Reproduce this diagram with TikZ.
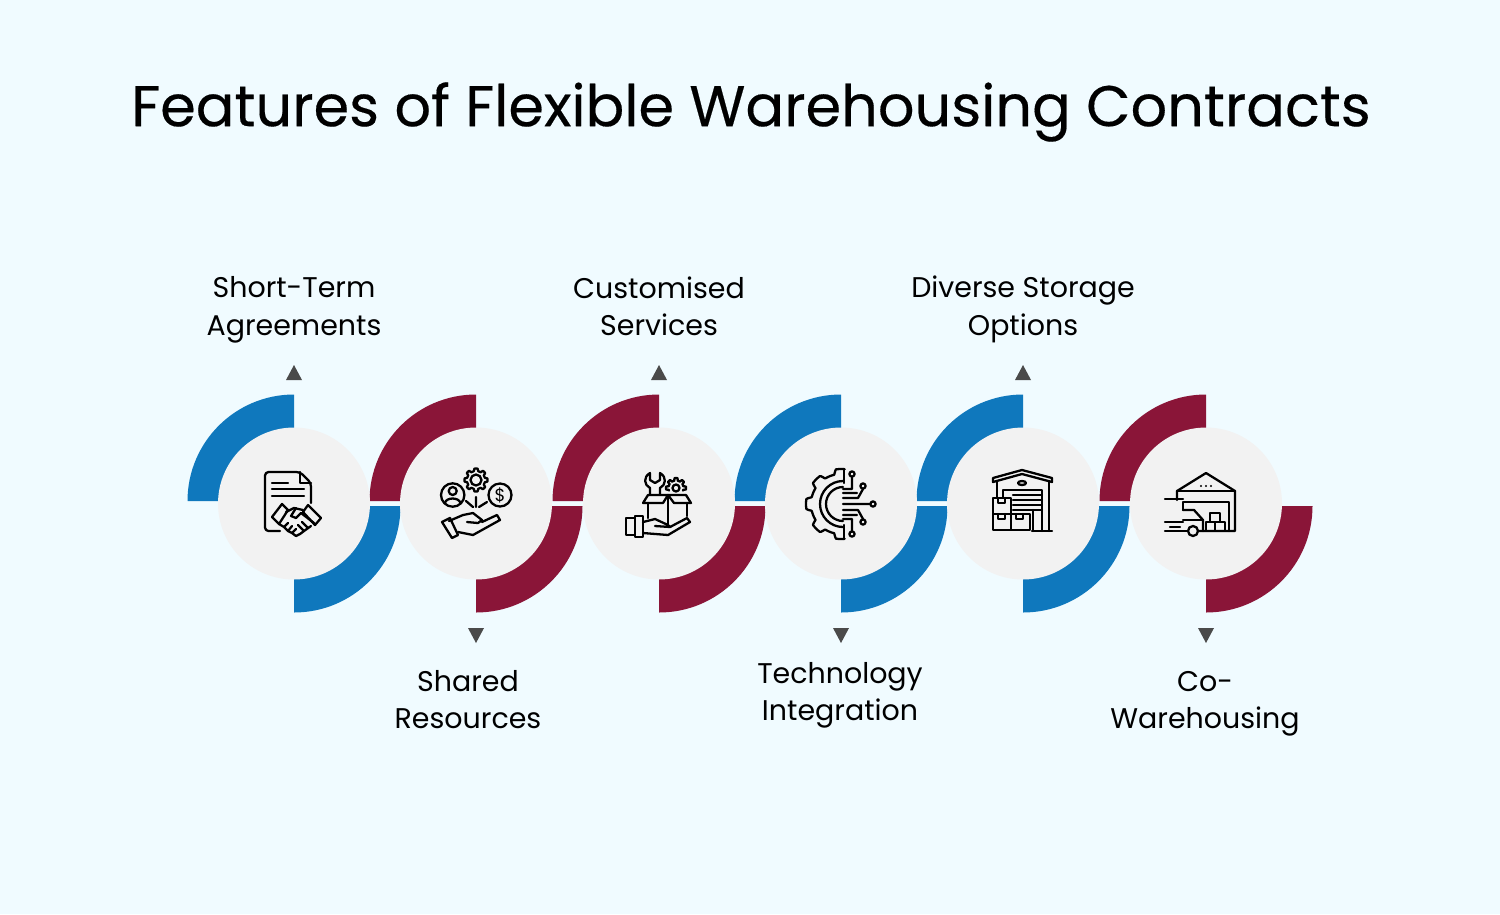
\documentclass[tikz,border=0pt]{standalone}
\usepackage{fontspec}
\setmainfont{Poppins}
\newfontfamily\headfont[FakeBold=0.3]{Poppins}
\definecolor{fondo}{HTML}{F0FBFF}
\definecolor{azul}{HTML}{0F78BD}
\definecolor{vino}{HTML}{8A1538}
\definecolor{disco}{HTML}{F2F2F2}
\definecolor{punta}{HTML}{4A4A4A}
\newcommand{\engrane}[6]{plot[domain=#5:#6,samples=121] ({#1+(#3+(#4-#3)*min(1,max(0,1.6*cos(8*\x)+.4)))*cos(\x)},{#2+(#3+(#4-#3)*min(1,max(0,1.6*cos(8*\x)+.4)))*sin(\x)})}
\begin{document}
\begin{tikzpicture}[x=0.02cm,y=-0.02cm,
        hub/.style={circle,fill=disco,minimum size=3.04cm,inner sep=0pt},
        tag/.style={align=center,text=black,font=\fontsize{16.2}{21.3}\selectfont},
        heading/.style={text=black,font=\headfont\fontsize{32.66}{40}\selectfont},
        icon/.style={draw=black,line width=1.3pt,line join=round,line cap=round}]
      \useasboundingbox (0,0) rectangle (1500,914);
      \fill [fondo] (0,0) rectangle (1500,914);
      \node [heading] (title) at (751,112) {Features of Flexible Warehousing Contracts};
      \foreach \cx/\col in {294/azul,476/vino,659/vino,841/azul,1023/azul,1206/vino}{
        \fill [\col] (\cx-106.5,501) arc[start angle=180,end angle=270,radius=106.5]
          -- (\cx,441) arc[start angle=270,end angle=180,radius=60] -- cycle;
        \fill [\col] (\cx+106.5,506) arc[start angle=0,end angle=90,radius=106.5]
          -- (\cx,566) arc[start angle=90,end angle=0,radius=60] -- cycle;
      }
      \foreach \n/\cx in {0/294,1/476,2/659,3/841,4/1023,5/1206}
        \node [hub] (hub\n) at (\cx,503.5) {};
      \foreach \cx in {294,659,1023}
        \fill [punta] (\cx,365) -- (\cx+8,380) -- (\cx-8,380) -- cycle;
      \foreach \cx in {476,841,1206}
        \fill [punta] (\cx,643) -- (\cx+8,628) -- (\cx-8,628) -- cycle;
      \node [tag] (tag0) at (294,310) {Short-Term\\Agreements};
      \node [tag] (tag1) at (468,699.5) {Shared\\Resources};
      \node [tag] (tag2) at (659,306) {Customised\\Services};
      \node [tag] (tag3) at (840,695.5) {Technology\\Integration};
      \node [tag] (tag4) at (1023,309.5) {Diverse Storage\\Options};
      \node [tag] (tag5) at (1205,704) {Co-\\Warehousing};
      % contract
      \draw [icon,rounded corners=2pt] (311,503) -- (311,483) -- (300,472) -- (265,472) -- (265,531) -- (280,531);
      \draw [icon] (300,472) -- (300,483) -- (311,483);
      \draw [icon] (272,483) -- (288,483) (272,489) -- (304,489) (272,496) -- (304,496);
      \draw [icon] (272,517) -- (282,504) -- (288,510) -- (279,524) -- cycle;
      \draw [icon] (308,505) -- (321,518) -- (315,525) -- (303,512) -- cycle;
      \draw [icon] (286,512) -- (294,508) -- (303,510);
      \draw [icon] (296,508) -- (291,516) -- (296,518) -- (301,513) -- (314,523);
      \draw [icon] (279,524) -- (284,527) -- (288,531) -- (292,533) -- (296,536) -- (300,534) -- (304,531) -- (311,526);
      \draw [icon] (284,527) -- (288,523) (288,531) -- (292,526) (292,533) -- (296,529) (304,531) -- (298,525) (308,528) -- (302,522);
      % people, gear, money
      \draw [icon] \engrane{476}{480}{9}{11.5}{0}{360};
      \draw [icon] (476,480) circle[radius=5.5];
      \draw [icon] (452.7,495) circle[radius=11.7] (452.7,491) circle[radius=4];
      \draw [icon] (445,503) .. controls (446,497) and (459,497) .. (460.5,503);
      \draw [icon] (500,495) circle[radius=11.5];
      \node [font=\fontsize{10}{10}\selectfont,inner sep=0pt] (dollar) at (500,495) {\$};
      \draw [icon] (476,497) -- (476,507) (466,501) -- (473,507) (487,502) -- (479,507);
      \draw [icon] (442,522) -- (450,518) -- (458,535) -- (452,538) -- cycle;
      \draw [icon] (449,521) -- (463,515) -- (473,513) -- (482,520) -- (478,523) -- (467,522);
      \draw [icon] (458,532) -- (473,535) -- (500,520) -- (497,515) -- (482,522);
      % box in hand
      \draw [icon] (668,495) -- (648,495) -- (643,503) -- (663,503) -- cycle;
      \draw [icon] (668,495) -- (686,495) -- (691,503) -- (674,503) -- cycle;
      \draw [icon] (648,503) -- (648,518) (687,503) -- (687,516) (668,495) -- (668,524);
      \draw [icon] (650,494) -- (650,488) .. controls (644,485) and (643,477) .. (650,473) -- (650,480) -- (655,483) -- (660,480) -- (660,473) .. controls (667,477) and (666,485) .. (660,488) -- (660,494);
      \draw [icon] \engrane{676}{488}{7.5}{10}{-200}{20};
      \draw [icon] (676,488) circle[radius=3.5];
      \draw [icon] (626,518) rectangle (635,535) (635,516) rectangle (643,537);
      \draw [icon] (643,522) -- (655,519) -- (668,525) -- (670,527) -- (655,526);
      \draw [icon] (643,533) -- (668,535) -- (690,522) -- (687,518) -- (670,527);
      % half gear with circuit
      \draw [icon] \engrane{841}{504}{30}{35}{-84}{-276};
      \draw [icon] (844,469) -- (844,483) (844,539) -- (844,525);
      \draw [icon] (843,481) arc[start angle=270,end angle=90,radius=23];
      \draw [icon] (843,487) arc[start angle=270,end angle=90,radius=17];
      \foreach \px/\py/\n in {852/474/0,863/486/1,873/504/2,863/522/3,852/534/4}
        \draw [icon] (\px,\py) circle[radius=2.6];
      \draw [icon] (852,477) -- (852,489) -- (843,489) (843,493) -- (857,493) (863,489) -- (858,498) -- (843,498);
      \draw [icon] (843,504) -- (870,504) (843,510) -- (858,510) -- (863,519) (843,515) -- (857,515) (843,519) -- (852,519) -- (852,531);
      % storage building
      \draw [icon] (993,482) -- (993,478) -- (1022,470) -- (1052,478) -- (1052,482) -- (1022,474) -- cycle;
      \draw [icon] (1022,483) ellipse[x radius=4,y radius=2];
      \draw [icon] (997,481) -- (997,497) (1049,481) -- (1049,531);
      \draw [icon] (1003,497) -- (1003,490) -- (1042,490) -- (1042,531);
      \foreach \py in {495,500,505,510}
        \draw [icon] (1013,\py) -- (1042,\py);
      \draw [icon] (1033,510) -- (1033,531) (1032,531) -- (1052,531);
      \foreach \bx/\by/\bw in {993/498/18,993/514/18,1011/514/19}{
        \draw [icon] (\bx,\by) rectangle (\bx+\bw,\by+16);
        \draw [icon] (\bx+5,\by) -- (\bx+5,\by+5) -- (\bx+12,\by+5) -- (\bx+12,\by);
      }
      % truck at the dock
      \draw [icon] (1177,500) -- (1177,491) -- (1206,473) -- (1235,491) -- (1235,531) -- (1198,531);
      \draw [icon] (1177,491) -- (1235,491);
      \foreach \px in {1201,1206,1211}
        \fill (\px,486) circle[radius=1.1];
      \draw [icon] (1183,510) -- (1183,502) -- (1229,502) -- (1229,531);
      \draw [icon] (1165,499) -- (1183,499);
      \draw [icon] (1183,510) -- (1194,510) -- (1203,520) -- (1203,531);
      \draw [icon] (1183,520) -- (1203,520);
      \draw [icon] (1165,522) -- (1183,522) (1170,527) -- (1180,527) (1165,531) -- (1187,531);
      \draw [icon] (1193,531) circle[radius=5];
      \draw [icon] (1206,522) rectangle (1215,531) (1215,522) rectangle (1225,531) (1210,513) rectangle (1220,522);
\end{tikzpicture}
\end{document}
